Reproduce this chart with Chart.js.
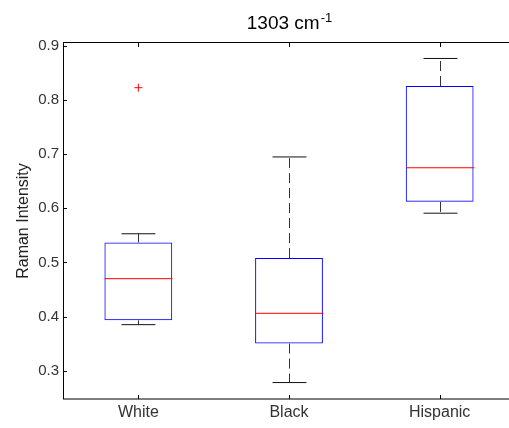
<!DOCTYPE html>
<html>
<head>
<meta charset="utf-8">
<script src="https://cdn.jsdelivr.net/npm/chart.js@4.4.1/dist/chart.umd.min.js"></script>
<style>
  html, body { margin: 0; padding: 0; background: #fff; overflow: hidden; }
  #wrap { width: 520px; height: 428px; }
</style>
</head>
<body>
<div id="wrap"><canvas id="box"></canvas></div>
<script>
// Box plot summary per group: whisker ends, quartiles, median, outliers
const groups = ['White', 'Black', 'Hispanic'];
const lowerWhisker = [0.385, 0.278, 0.591];
const q1 = [0.393, 0.350, 0.612];
const median = [0.470, 0.406, 0.675];
const q3 = [0.537, 0.508, 0.826];
const upperWhisker = [0.553, 0.695, 0.877];
const outliers = [[0.823], [], []];
const yTicks = [0.3, 0.4, 0.5, 0.6, 0.7, 0.8, 0.9];
const yMin = 0.2476;
const yMax = 0.9056;

const FONT = 'Arial, "Liberation Sans", Helvetica, sans-serif';

// whiskers, caps, medians, axes box, inward ticks and title
const boxPlotDecor = {
    id: 'boxPlotDecor',
    afterDatasetsDraw(chart) {
        const ctx = chart.ctx;
        const x = chart.scales.x;
        const y = chart.scales.y;
        const bars = chart.getDatasetMeta(0).data;
        ctx.save();
        groups.forEach((g, i) => {
            const cx = Math.round(x.getPixelForValue(i)) + 0.5;
            const half = bars[i].width / 2;
            const capHalf = half / 2;
            const yLo = y.getPixelForValue(lowerWhisker[i]);
            const yHi = y.getPixelForValue(upperWhisker[i]);
            const yQ1 = y.getPixelForValue(q1[i]);
            const yQ3 = y.getPixelForValue(q3[i]);
            const yMed = y.getPixelForValue(median[i]);

            // dashed whisker stems
            ctx.strokeStyle = '#333';
            ctx.lineWidth = 1;
            ctx.setLineDash([10, 5]);
            ctx.beginPath();
            ctx.moveTo(cx, yQ3);
            ctx.lineTo(cx, yHi);
            ctx.moveTo(cx, yQ1);
            ctx.lineTo(cx, yLo);
            ctx.stroke();
            ctx.setLineDash([]);

            // whisker caps
            ctx.strokeStyle = '#111';
            ctx.beginPath();
            ctx.moveTo(cx - capHalf, yHi);
            ctx.lineTo(cx + capHalf, yHi);
            ctx.moveTo(cx - capHalf, yLo);
            ctx.lineTo(cx + capHalf, yLo);
            ctx.stroke();

            // median
            ctx.strokeStyle = '#ff0000';
            ctx.beginPath();
            ctx.moveTo(cx - half, yMed);
            ctx.lineTo(cx + half, yMed);
            ctx.stroke();
        });

        // axes box
        const a = chart.chartArea;
        ctx.strokeStyle = '#000';
        ctx.lineWidth = 1;
        ctx.strokeRect(a.left + 0.5, a.top - 0.5, a.right - a.left, a.bottom - a.top + 0.5);

        // inward tick marks
        const tl = 4;
        ctx.beginPath();
        yTicks.forEach(v => {
            const py = Math.round(y.getPixelForValue(v)) + 0.5;
            ctx.moveTo(a.left, py);
            ctx.lineTo(a.left + tl, py);
        });
        groups.forEach((g, i) => {
            const px = Math.round(x.getPixelForValue(i)) + 0.5;
            ctx.moveTo(px, a.bottom);
            ctx.lineTo(px, a.bottom - tl);
            ctx.moveTo(px, a.top);
            ctx.lineTo(px, a.top + tl);
        });
        ctx.stroke();

        // title with superscript unit
        const main = '1303 cm';
        const sup = '-1';
        ctx.fillStyle = '#000';
        ctx.textBaseline = 'alphabetic';
        ctx.font = '19px ' + FONT;
        const w1 = ctx.measureText(main).width;
        ctx.font = '13px ' + FONT;
        const w2 = ctx.measureText(sup).width;
        const start = (a.left + a.right) / 2 - (w1 + w2) / 2;
        ctx.font = '19px ' + FONT;
        ctx.textAlign = 'left';
        ctx.fillText(main, start, 29);
        ctx.font = '13px ' + FONT;
        ctx.fillText(sup, start + w1 + 1, 22);
        ctx.restore();
    }
};

const ctx = document.getElementById('box').getContext('2d');
new Chart(ctx, {
    data: {
        labels: groups,
        datasets: [
            {
                type: 'bar',
                data: groups.map((g, i) => [q1[i], q3[i]]),
                backgroundColor: 'rgba(0,0,0,0)',
                borderColor: '#0000ff',
                borderWidth: 1,
                borderSkipped: false,
                barPercentage: 0.45,
                categoryPercentage: 1.0
            },
            {
                type: 'line',
                data: outliers.flatMap((list, i) => list.map(v => ({ x: groups[i], y: v }))),
                showLine: false,
                pointStyle: 'cross',
                pointRadius: 4,
                borderColor: '#ff0000',
                borderWidth: 1
            }
        ]
    },
    options: {
        responsive: true,
        maintainAspectRatio: false,
        animation: false,
        layout: { padding: { top: 43, right: 4, left: 0, bottom: 0 } },
        plugins: {
            legend: { display: false },
            tooltip: { enabled: false },
            title: { display: false }
        },
        scales: {
            x: {
                type: 'category',
                offset: true,
                grid: { display: false, drawTicks: false },
                border: { display: false },
                ticks: {
                    padding: 4,
                    color: '#333',
                    font: { family: FONT, size: 16 }
                },
                afterFit(scale) { scale.height = 29; }
            },
            y: {
                type: 'linear',
                min: yMin,
                max: yMax,
                grid: { display: false, drawTicks: false },
                border: { display: false },
                afterBuildTicks(scale) {
                    scale.ticks = yTicks.map(v => ({ value: v }));
                },
                ticks: {
                    padding: 4,
                    color: '#333',
                    font: { family: FONT, size: 15 },
                    callback: v => v.toFixed(1)
                },
                title: {
                    display: true,
                    text: 'Raman Intensity',
                    color: '#222',
                    padding: { top: 14, bottom: 0 },
                    font: { family: FONT, size: 16 }
                },
                afterFit(scale) { scale.width = 63; }
            }
        }
    },
    plugins: [boxPlotDecor]
});
</script>
</body>
</html>
